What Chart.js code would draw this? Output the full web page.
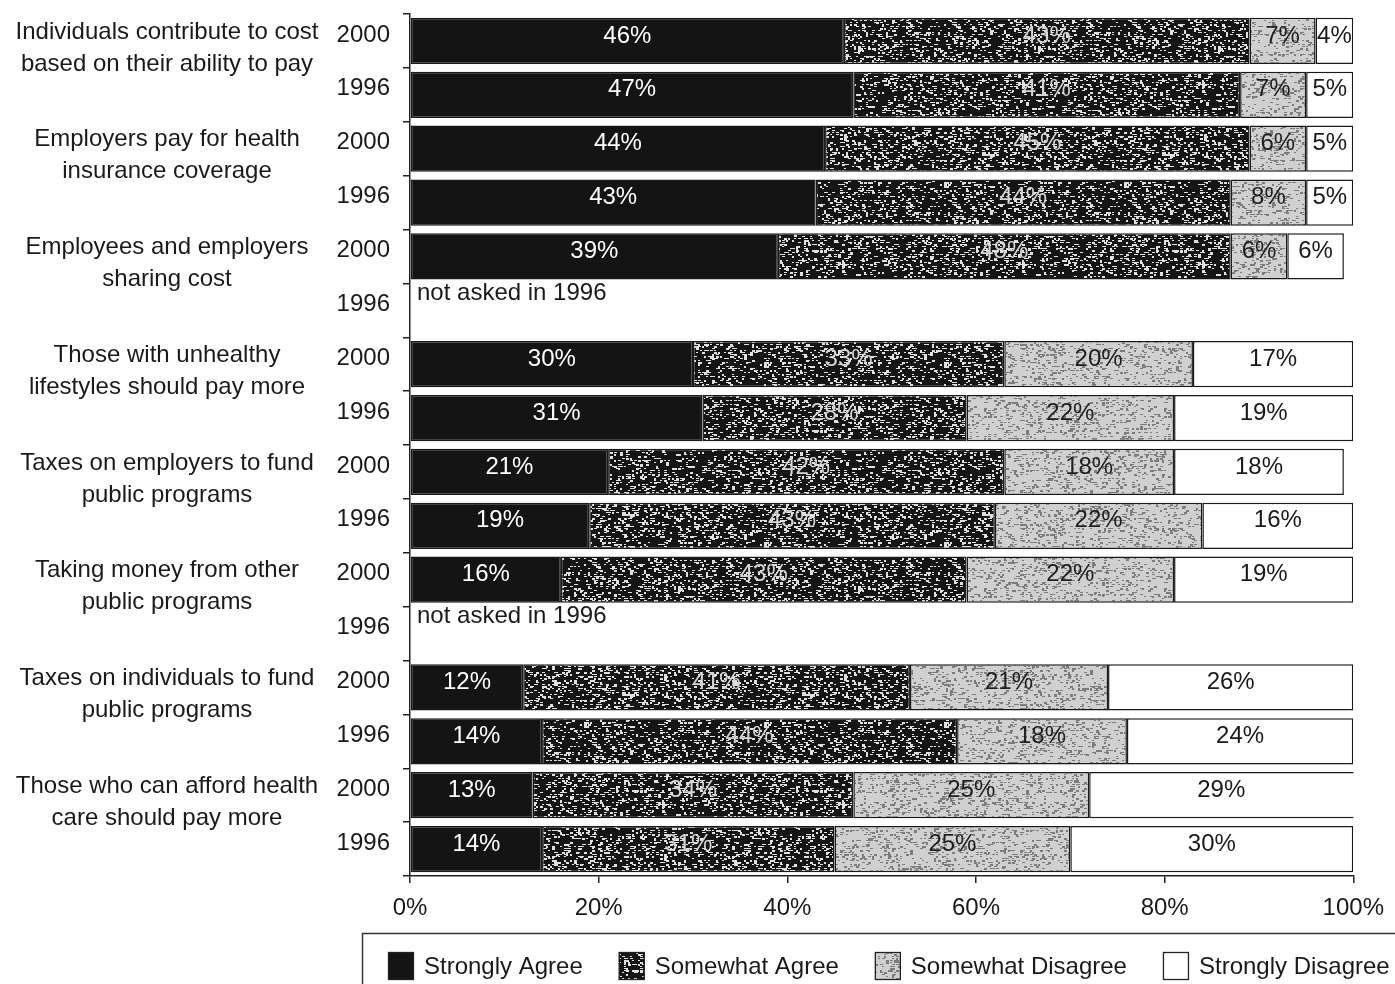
<!DOCTYPE html>
<html>
<head>
<meta charset="utf-8">
<script src="https://cdn.jsdelivr.net/npm/chart.js@4.4.0/dist/chart.umd.min.js"></script>
<style>
  html, body { margin: 0; padding: 0; background: #ffffff; }
  #wrap { width: 1395px; height: 984px; position: relative; }
</style>
</head>
<body>
<div id="wrap"><canvas id="chart" width="1395" height="984"></canvas></div>
<script>
// Survey statements (two lines each), one per pair of rows
const groups = [
  ['Individuals contribute to cost', 'based on their ability to pay'],
  ['Employers pay for health', 'insurance coverage'],
  ['Employees and employers', 'sharing cost'],
  ['Those with unhealthy', 'lifestyles should pay more'],
  ['Taxes on employers to fund', 'public programs'],
  ['Taking money from other', 'public programs'],
  ['Taxes on individuals to fund', 'public programs'],
  ['Those who can afford health', 'care should pay more']
];

// Row labels (survey year)
const years = ['2000', '1996', '2000', '1996', '2000', '1996', '2000', '1996',
               '2000', '1996', '2000', '1996', '2000', '1996', '2000', '1996'];

// Response shares in percent; null where the question was not asked
const stronglyAgree    = [46, 47, 44, 43, 39, null, 30, 31, 21, 19, 16, null, 12, 14, 13, 14];
const somewhatAgree    = [43, 41, 45, 44, 48, null, 33, 28, 42, 43, 43, null, 41, 44, 34, 31];
const somewhatDisagree = [ 7,  7,  6,  8,  6, null, 20, 22, 18, 22, 22, null, 21, 18, 25, 25];
const stronglyDisagree = [ 4,  5,  5,  5,  6, null, 17, 19, 18, 16, 19, null, 26, 24, 29, 30];

// Notes shown in empty rows
const rowNotes = ['', '', '', '', '', 'not asked in 1996', '', '', '', '', '', 'not asked in 1996', '', '', '', ''];

const seriesNames = ['Strongly Agree', 'Somewhat Agree', 'Somewhat Disagree', 'Strongly Disagree'];
const xTicks = [0, 20, 40, 60, 80, 100];

const FONT = '"Liberation Sans", Arial, Helvetica, sans-serif';
const INK = '#1a1a1a';

// Deterministic speckle texture for the halftone-like fills
function hash(x, y, s) {
  let n = Math.imul(x + 1, 374761393) ^ Math.imul(y + 7, 668265263) ^ Math.imul(s + 3, 982451653);
  n = Math.imul(n ^ (n >>> 13), 1274126177);
  n ^= n >>> 16;
  return (n >>> 0) / 4294967296;
}
function makeTexture(base, speck, density, seed) {
  const size = 180;
  const c = document.createElement('canvas');
  c.width = size; c.height = size;
  const g = c.getContext('2d');
  g.fillStyle = base;
  g.fillRect(0, 0, size, size);
  g.fillStyle = speck;
  for (let y = 0; y < size; y += 2) {
    for (let x = 0; x < size; x += 2) {
      if (hash(x, y, seed) < density) {
        const w = hash(y, x, seed + 11) < 0.5 ? 2 : 3;
        const h = hash(x + 5, y + 9, seed + 23) < 0.6 ? 1 : 2;
        g.fillRect(x, y, w, h);
      }
    }
  }
  return g.createPattern(c, 'repeat');
}

const fills = [
  '#141414',
  makeTexture('#151515', '#e0e0e0', 0.26, 1),
  makeTexture('#d0d0d0', '#7c7c7c', 0.24, 2),
  '#ffffff'
];
const labelColors = ['#ffffff', '#d6d6d6', '#1e1e1e', '#1a1a1a'];
const seriesData = [stronglyAgree, somewhatAgree, somewhatDisagree, stronglyDisagree];

// Percent labels centred on each segment
const segmentLabels = {
  id: 'segmentLabels',
  afterDatasetsDraw(chart) {
    const ctx = chart.ctx;
    ctx.save();
    ctx.font = '24px ' + FONT;
    ctx.textAlign = 'center';
    ctx.textBaseline = 'middle';
    chart.data.datasets.forEach((ds, i) => {
      const meta = chart.getDatasetMeta(i);
      meta.data.forEach((el, j) => {
        const v = ds.data[j];
        if (v === null || v === undefined) return;
        const p = el.getProps(['x', 'y', 'base'], true);
        const right = Math.min(p.x, chart.chartArea.right);
        ctx.fillStyle = labelColors[i];
        ctx.fillText(v + '%', (right + p.base) / 2, p.y - 5);
      });
    });
    ctx.restore();
  }
};

// Statement labels on the left and notes inside empty rows
const sideText = {
  id: 'sideText',
  afterDraw(chart) {
    const ctx = chart.ctx;
    const y = chart.scales.y;
    ctx.save();
    ctx.font = '24px ' + FONT;
    ctx.fillStyle = INK;
    ctx.textBaseline = 'middle';
    ctx.textAlign = 'center';
    groups.forEach((lines, g) => {
      const cy = y.getPixelForValue(g * 2);
      ctx.fillText(lines[0], 167, cy - 9);
      ctx.fillText(lines[1], 167, cy + 23);
    });
    ctx.textAlign = 'left';
    rowNotes.forEach((note, i) => {
      if (!note) return;
      ctx.fillText(note, chart.chartArea.left + 7, y.getPixelForValue(i) - 17);
    });
    ctx.restore();
  }
};

// Boxed legend along the bottom
const boxedLegend = {
  id: 'boxedLegend',
  afterDraw(chart) {
    const ctx = chart.ctx;
    ctx.save();
    ctx.strokeStyle = '#333333';
    ctx.lineWidth = 1.5;
    ctx.beginPath();
    ctx.moveTo(362.5, chart.height + 2);
    ctx.lineTo(362.5, 933.5);
    ctx.lineTo(chart.width + 2, 933.5);
    ctx.stroke();

    ctx.font = '24px ' + FONT;
    ctx.textBaseline = 'middle';
    ctx.textAlign = 'left';
    let x = 388;
    const boxTop = 952, boxW = 26, boxH = 28, textY = 967;
    chart.data.datasets.forEach(ds => {
      ctx.fillStyle = ds.backgroundColor;
      ctx.fillRect(x, boxTop, boxW, boxH);
      ctx.strokeStyle = '#222222';
      ctx.lineWidth = 1.3;
      ctx.strokeRect(x + 0.5, boxTop + 0.5, boxW - 1, boxH - 1);
      ctx.fillStyle = INK;
      ctx.fillText(ds.label, x + boxW + 10, textY);
      x += boxW + 10 + ctx.measureText(ds.label).width + 36;
    });
    ctx.restore();
  }
};

Chart.defaults.font.family = FONT;

new Chart(document.getElementById('chart'), {
  type: 'bar',
  data: {
    labels: years,
    datasets: seriesData.map((d, i) => ({
      label: seriesNames[i],
      data: d,
      backgroundColor: fills[i],
      borderColor: '#1a1a1a',
      borderWidth: 1.5,
      borderSkipped: false,
      barPercentage: 0.86,
      categoryPercentage: 1.0
    }))
  },
  options: {
    indexAxis: 'y',
    responsive: false,
    animation: false,
    devicePixelRatio: 1,
    layout: { padding: { top: 14, right: 38, bottom: 68, left: 0 } },
    plugins: {
      legend: { display: false },
      tooltip: { enabled: false }
    },
    scales: {
      x: {
        stacked: true,
        min: 0,
        max: 100,
        afterBuildTicks(scale) { scale.ticks = xTicks.map(v => ({ value: v })); },
        ticks: {
          callback: v => v + '%',
          font: { size: 24 },
          color: INK,
          padding: 11,
          maxRotation: 0
        },
        grid: { drawOnChartArea: false, drawTicks: true, tickLength: 7, color: '#222222', lineWidth: 1.5 },
        border: { display: true, color: '#222222', width: 1.5 },
        afterFit(scale) { scale.height = 40; }
      },
      y: {
        stacked: true,
        offset: true,
        ticks: {
          font: { size: 24 },
          color: INK,
          padding: 13,
          labelOffset: -6,
          autoSkip: false
        },
        grid: { drawOnChartArea: false, drawTicks: true, tickLength: 7, offset: true, color: '#222222', lineWidth: 1.5 },
        border: { display: true, color: '#222222', width: 1.5 },
        afterFit(scale) {
          scale.width = 410;
          scale.paddingTop = 0;
          scale.paddingBottom = 0;
        }
      }
    }
  },
  plugins: [segmentLabels, sideText, boxedLegend]
});
</script>
</body>
</html>
